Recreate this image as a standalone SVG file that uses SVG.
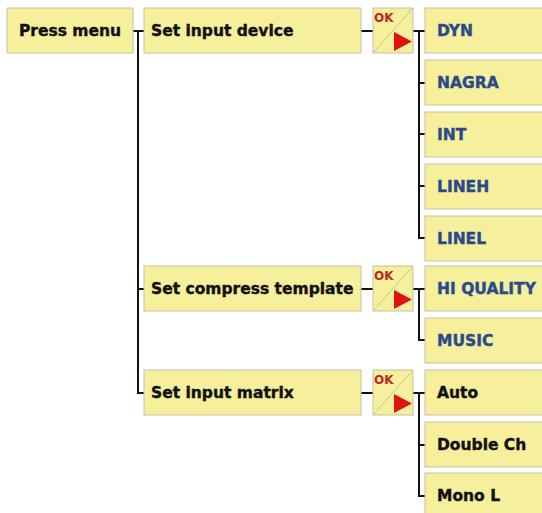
<svg xmlns="http://www.w3.org/2000/svg" width="542" height="513" viewBox="0 0 542 513">
<style>
.box{fill:#f6ef9b;stroke:#c4c1a4;stroke-width:1}
.t{font-family:"DejaVu Sans",sans-serif;font-weight:bold;font-size:15.5px;fill:#111;stroke:#111;stroke-width:0.4}
.b{fill:#2b4a8c;stroke:#2b4a8c}
.ok{font-family:"DejaVu Sans",sans-serif;font-weight:bold;font-size:12px;fill:#c0281e}
.diag{stroke:#c4c1a4;stroke-width:1}
.tri{fill:#dd1414}
.c{fill:none;stroke:#111;stroke-width:2}
</style>
<defs>
<g id="okbox">
<rect class="box" x="0" y="0" width="40" height="45"/>
<line class="diag" x1="0" y1="45" x2="40" y2="0"/>
<text class="ok" x="1" y="14">OK</text>
<polygon class="tri" points="21,24 39,33.5 21,43"/>
</g>
</defs>
<rect width="542" height="513" fill="#ffffff"/>
<g id="connectors">
<path class="c" d="M133,31 H144 M138,31 V393 H144 M138,289 H144"/>
<path class="c" d="M361,31 H373 M361,289 H373 M361,393 H373"/>
<path class="c" d="M413,31 H425 M419,31 V238 H425 M419,83 H425 M419,134 H425 M419,186 H425"/>
<path class="c" d="M413,289 H425 M419,289 V340 H425"/>
<path class="c" d="M413,393 H425 M419,393 V496 H425 M419,445 H425"/>
</g>
<g id="press-menu"><rect class="box" x="7" y="8" width="126" height="45"/><text class="t" x="19" y="36">Press menu</text></g>
<g id="set-input-device"><rect class="box" x="144" y="8" width="217" height="45"/><text class="t" x="151" y="36">Set input device</text></g>
<g id="set-compress-template"><rect class="box" x="144" y="266" width="217" height="45"/><text class="t" x="151" y="294">Set compress template</text></g>
<g id="set-input-matrix"><rect class="box" x="144" y="370" width="217" height="45"/><text class="t" x="151" y="398">Set input matrix</text></g>
<g id="ok1"><use href="#okbox" x="373" y="8"/></g>
<g id="ok2"><use href="#okbox" x="373" y="266"/></g>
<g id="ok3"><use href="#okbox" x="373" y="370"/></g>
<g id="dyn"><rect class="box" x="425" y="8" width="120" height="45"/><text class="t b" x="437" y="36">DYN</text></g>
<g id="nagra"><rect class="box" x="425" y="60" width="120" height="45"/><text class="t b" x="437" y="88">NAGRA</text></g>
<g id="int"><rect class="box" x="425" y="112" width="120" height="45"/><text class="t b" x="437" y="140">INT</text></g>
<g id="lineh"><rect class="box" x="425" y="164" width="120" height="45"/><text class="t b" x="437" y="192">LINEH</text></g>
<g id="linel"><rect class="box" x="425" y="216" width="120" height="45"/><text class="t b" x="437" y="244">LINEL</text></g>
<g id="hi-quality"><rect class="box" x="425" y="266" width="120" height="45"/><text class="t b" x="437" y="294">HI QUALITY</text></g>
<g id="music"><rect class="box" x="425" y="318" width="120" height="45"/><text class="t b" x="437" y="346">MUSIC</text></g>
<g id="auto"><rect class="box" x="425" y="370" width="120" height="45"/><text class="t" x="437" y="398">Auto</text></g>
<g id="double-ch"><rect class="box" x="425" y="422" width="120" height="45"/><text class="t" x="437" y="450">Double Ch</text></g>
<g id="mono-l"><rect class="box" x="425" y="473" width="120" height="45"/><text class="t" x="437" y="501">Mono L</text></g>
</svg>
